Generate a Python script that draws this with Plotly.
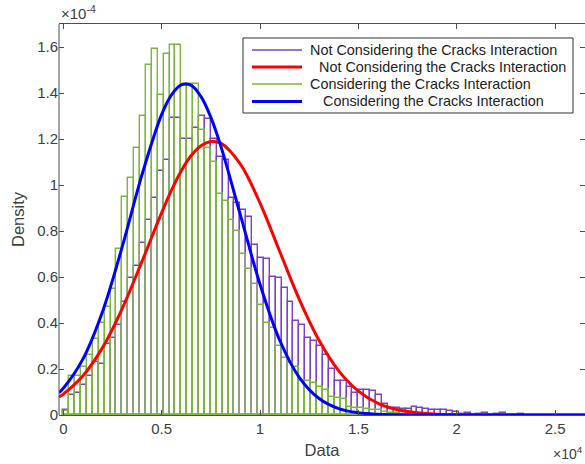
import plotly.graph_objects as go

# ---------------- data (densities in units of 1e-4) ----------------
bin_width = 300
bin_start = 0

not_considering_density = [
    0.02, 0.085, 0.097, 0.13, 0.17, 0.23, 0.22, 0.31, 0.336, 0.39,
    0.49, 0.597, 0.65, 0.75, 0.85, 0.945, 1.06, 1.11, 1.29, 1.29,
    1.20, 1.20, 1.25, 1.30, 1.285, 1.20, 1.12, 1.11, 0.945, 0.92,
    0.89, 0.86, 0.74, 0.684, 0.68, 0.60, 0.597, 0.553, 0.49, 0.41,
    0.39, 0.336, 0.32, 0.30, 0.26, 0.20, 0.15, 0.15, 0.12, 0.097,
    0.11, 0.11, 0.104, 0.085, 0.046, 0.032, 0.03, 0.025, 0.025, 0.035,
    0.03, 0.025, 0.02, 0.02, 0.02, 0.017, 0.012, 0.005, 0.01, 0.0,
    0.004, 0.01, 0.0, 0.003, 0.008, 0.0, 0.002, 0.006,
]

considering_density = [
    0.017, 0.17, 0.17, 0.21, 0.26, 0.33, 0.40, 0.47, 0.55, 0.72,
    0.95, 1.03, 1.16, 1.30, 1.52, 1.59, 1.39, 1.57, 1.61, 1.61,
    1.44, 1.44, 1.44, 1.24, 1.16, 1.10, 0.96, 0.93, 0.85, 0.80,
    0.70, 0.635, 0.57, 0.48, 0.40, 0.38, 0.30, 0.25, 0.226, 0.21,
    0.15, 0.15, 0.14, 0.12, 0.11, 0.08, 0.075, 0.07, 0.035, 0.03,
    0.03, 0.025, 0.02, 0.02, 0.015, 0.01, 0.008, 0.005, 0.004, 0.002,
]

curve_x = [-220, 0, 1000, 2000, 3000, 4000, 5000, 5500, 6000, 6500, 7000,
           7500, 8000, 9000, 10000, 11000, 12000, 13000, 14000, 15000,
           16000, 17000, 18000, 19000, 20000, 21000, 22000, 24000, 26520]
fit_not_considering = [0.078, 0.091, 0.171, 0.294, 0.464, 0.668, 0.880, 0.978,
                       1.062, 1.128, 1.171, 1.189, 1.182, 1.091, 0.921, 0.711,
                       0.502, 0.325, 0.192, 0.104, 0.051, 0.023, 0.0096,
                       0.0036, 0.0013, 0.0004, 0.0001, 0.0, 0.0]
fit_considering = [0.097, 0.116, 0.244, 0.451, 0.733, 1.045, 1.307, 1.392,
                   1.435, 1.433, 1.384, 1.294, 1.171, 0.870, 0.568, 0.325,
                   0.163, 0.072, 0.028, 0.0095, 0.0028, 0.0007, 0.0002,
                   0.0, 0.0, 0.0, 0.0, 0.0, 0.0]

xtick_vals = [0, 5000, 10000, 15000, 20000, 25000]
xtick_text = ["0", "0.5", "1", "1.5", "2", "2.5"]
ytick_vals = [0, 0.2, 0.4, 0.6, 0.8, 1.0, 1.2, 1.4, 1.6]
ytick_text = ["0", "0.2", "0.4", "0.6", "0.8", "1", "1.2", "1.4", "1.6"]

legend_names = ["Not Considering the Cracks Interaction",
                "Not Considering the Cracks Interaction",
                "Considering the Cracks Interaction",
                "Considering the Cracks Interaction"]

# ---------------- styles ----------------
PURPLE = "#7e3fc9"
GREEN = "#7ab83c"
RED = "#ff0000"
BLUE = "#0000ff"
TXT = "#404040"
AX = "#4d4d4d"
FONT = "Liberation Sans, Arial, sans-serif"

legend_colors = [PURPLE, RED, GREEN, BLUE]
legend_widths = [1.5, 3, 1.5, 3]
legend_text_x = [0.4734, 0.4899, 0.4734, 0.4975]
legend_row_y = [0.9335, 0.8900, 0.8465, 0.8018]

centers_nc = [bin_start + bin_width * (i + 0.5) for i in range(len(not_considering_density))]
centers_c = [bin_start + bin_width * (i + 0.5) for i in range(len(considering_density))]

fig = go.Figure()
fig.add_trace(go.Bar(x=centers_nc, y=not_considering_density, width=bin_width,
                     name=legend_names[0],
                     marker=dict(color="rgba(0,0,0,0)", line=dict(color=PURPLE, width=1.4)),
                     showlegend=False))
fig.add_trace(go.Bar(x=centers_c, y=considering_density, width=bin_width,
                     name=legend_names[2],
                     marker=dict(color="rgba(0,0,0,0)", line=dict(color=GREEN, width=1.4)),
                     showlegend=False))
fig.add_trace(go.Scatter(x=curve_x, y=fit_not_considering, mode="lines", name=legend_names[1],
                         line=dict(color=RED, width=3, shape="spline", smoothing=1.0),
                         showlegend=False))
fig.add_trace(go.Scatter(x=curve_x, y=fit_considering, mode="lines", name=legend_names[3],
                         line=dict(color=BLUE, width=3, shape="spline", smoothing=1.0),
                         showlegend=False))

# hand-built MATLAB-style legend box
shapes = [dict(type="line", xref="paper", yref="paper", x0=0, x1=0, y0=0, y1=1,
               line=dict(color=AX, width=1)),
          dict(type="rect", xref="paper", yref="paper", x0=0.3498, x1=0.9772,
               y0=0.7724, y1=0.9642, fillcolor="white",
               line=dict(color="#333333", width=1), layer="above")]
annotations = []
for name, col, lw, tx, ry in zip(legend_names, legend_colors, legend_widths,
                                 legend_text_x, legend_row_y):
    shapes.append(dict(type="line", xref="paper", yref="paper", x0=0.3669, x1=0.4620,
                       y0=ry, y1=ry, line=dict(color=col, width=lw), layer="above"))
    annotations.append(dict(text=name, xref="paper", yref="paper", x=tx, y=ry,
                            xanchor="left", yanchor="middle", showarrow=False,
                            font=dict(size=14.4, color="#222222", family=FONT)))

annotations += [
    dict(text="\u00d710<sup>-4</sup>", xref="paper", yref="paper", x=0.0, y=1.0,
         xanchor="left", yanchor="bottom", showarrow=False,
         font=dict(size=15, color=TXT)),
    dict(text="\u00d710<sup>4</sup>", xref="paper", yref="paper", x=1.0, y=-0.068,
         xanchor="right", yanchor="top", showarrow=False,
         font=dict(size=14, color=TXT)),
]

fig.update_layout(
    width=585, height=464,
    margin=dict(l=59, r=0, t=24, b=49),
    paper_bgcolor="white", plot_bgcolor="white",
    barmode="overlay", bargap=0,
    font=dict(family=FONT, color=TXT, size=15),
    showlegend=False,
    xaxis=dict(range=[-220, 26520], tickvals=xtick_vals, ticktext=xtick_text,
               showgrid=False, zeroline=False, showline=True, linecolor=AX,
               linewidth=1, mirror="ticks", ticks="inside", ticklen=5,
               tickcolor=AX, tickfont=dict(size=15, color=TXT),
               title=dict(text="Data", font=dict(size=16.5, color=TXT), standoff=8)),
    yaxis=dict(range=[0, 1.7], tickvals=ytick_vals, ticktext=ytick_text,
               showgrid=False, zeroline=False, showline=False,
               mirror="ticks", ticks="inside", ticklen=5,
               tickcolor=AX, tickfont=dict(size=15, color=TXT),
               title=dict(text="Density", font=dict(size=16.5, color=TXT), standoff=8)),
    shapes=shapes,
    annotations=annotations,
)

fig.write_html("out.html", config={"displayModeBar": False})
